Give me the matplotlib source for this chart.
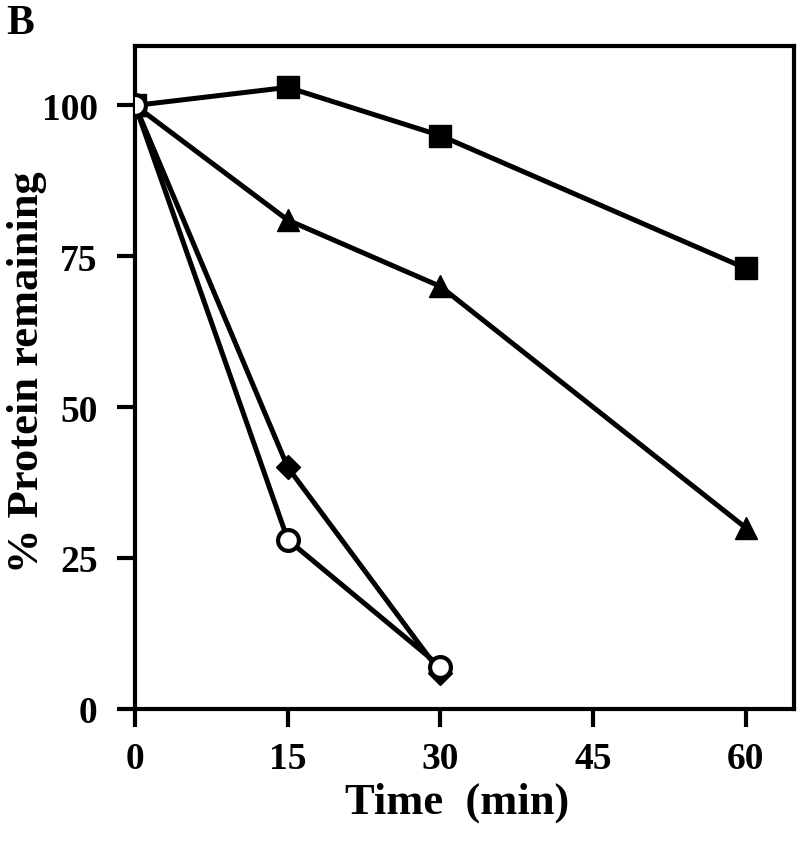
"""Protein remaining over time, panel B."""

import matplotlib
matplotlib.use("Agg")
import matplotlib.pyplot as plt

time_min = [0, 15, 30, 60]
time_short = [0, 15, 30]
squares = [100, 103, 95, 73]
triangles = [100, 81, 70, 30]
diamonds = [100, 40, 6]
circles = [100, 28, 7]

x_ticks = [0, 15, 30, 45, 60]
y_ticks = [0, 25, 50, 75, 100]

plt.rcParams["font.family"] = ["Liberation Serif", "DejaVu Serif"]
plt.rcParams["font.weight"] = "bold"

fig = plt.figure(figsize=(8, 8.45), dpi=100)
ax = fig.add_axes([0.169, 0.160, 0.823, 0.784])

lw = 3.6
ax.plot(time_min, squares, color="black", lw=lw, marker="s", ms=16, mfc="black", mec="black", zorder=3)
ax.plot(time_min, triangles, color="black", lw=lw, marker="^", ms=16, mfc="black", mec="black", zorder=3)
ax.plot(time_short, diamonds, color="black", lw=lw, marker="D", ms=12, mfc="black", mec="black", zorder=4)
ax.plot(time_short, circles, color="black", lw=lw, marker="o", ms=15, mfc="white", mec="black", mew=3, zorder=5)

ax.set_xlim(0, 64.7)
ax.set_ylim(0, 109.8)
ax.set_xticks(x_ticks)
ax.set_yticks(y_ticks)
ax.tick_params(direction="out", length=13, width=3, labelsize=27)
ax.tick_params(axis="x", pad=10)
ax.tick_params(axis="y", pad=14)
for lab in ax.get_xticklabels() + ax.get_yticklabels():
    lab.set_fontweight("bold")
for sp in ax.spines.values():
    sp.set_linewidth(3)

fig.text(457 / 800, 1 - 803 / 845, "Time  (min)", fontsize=32, fontweight="bold",
         ha="center", va="center")
fig.text(27 / 800, 1 - 372 / 845, "% Protein remaining", fontsize=32, fontweight="bold",
         ha="center", va="center", rotation=90)

fig.text(0.008, 0.972, "B", fontsize=30, fontweight="bold", va="center", ha="left")

fig.savefig("out.png", dpi=100)
